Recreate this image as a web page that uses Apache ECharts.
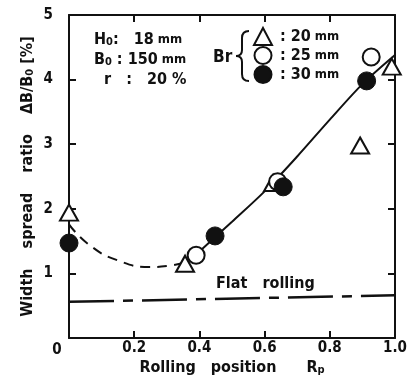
<!DOCTYPE html>
<html><head><meta charset="utf-8">
<script src="https://cdn.jsdelivr.net/npm/echarts@6/dist/echarts.min.js"></script>
<style>html,body{margin:0;padding:0;background:#fff}#c{width:412px;height:378px}</style>
</head><body><div id="c"></div>
<script>
const FONT = '"Liberation Sans Narrow","DejaVu Sans Condensed","Liberation Sans",Arial,sans-serif';
const xTickLabels = ['0','0.2','0.4','0.6','0.8','1.0'];
const yTickLabels = ['','1','2','3','4','5'];
const br20 = [[0,1.94],[0.356,1.15],[0.626,2.40],[0.893,2.98],[0.99,4.2]];
const br25 = [[0.39,1.28],[0.64,2.42],[0.927,4.35]];
const br30 = [[0,1.47],[0.448,1.58],[0.657,2.34],[0.913,3.98]];
const fitDashed = [[0,1.76],[0.06,1.45],[0.15,1.2],[0.25,1.1],[0.31,1.12],[0.35,1.16]];
const fitSolid = [[0.385,1.27],[0.5,1.80],[0.6,2.27],[0.7,2.81],[0.8,3.38],[0.9,3.93],[1.0,4.38]];
const flatRolling = [[0,0.56],[1.0,0.66]];

const chart = echarts.init(document.getElementById('c'));
const black = '#111';
function frame(){
  return {
    axisLine:{show:true,onZero:false,lineStyle:{color:black,width:2}},
    axisTick:{show:true,inside:true,length:7,lineStyle:{color:black,width:2}},
    splitLine:{show:false}
  };
}
const braceStyle = {fill:'none',stroke:black,lineWidth:2};
chart.setOption({
  animation:false,
  textStyle:{fontFamily:FONT},
  grid:{left:69,right:17,top:15,bottom:40,outerBoundsMode:'none',containLabel:false},
  xAxis:[Object.assign(frame(),{
    type:'value',min:0,max:1,interval:0.2,position:'bottom',
    name:'Rolling   position      R{sub|p}',nameLocation:'middle',nameGap:21,nameMoveOverlap:false,
    nameTextStyle:{fontFamily:FONT,fontWeight:'bold',fontSize:16,color:black,
      rich:{sub:{fontFamily:FONT,fontWeight:'bold',fontSize:11,color:black,padding:[6,0,0,0]}}},
    axisLabel:{fontFamily:FONT,fontWeight:'bold',fontSize:15,color:black,margin:3,
      formatter:(v)=>{const i=Math.round(v/0.2);return i===0?'{z|'+xTickLabels[0]+'}':xTickLabels[i];},
      rich:{z:{fontFamily:FONT,fontWeight:'bold',fontSize:15,color:black,padding:[2,24,0,0]}}}
  }),Object.assign(frame(),{
    type:'value',min:0,max:1,interval:0.2,position:'top',axisLabel:{show:false}
  })],
  yAxis:[Object.assign(frame(),{
    type:'value',min:0,max:5,interval:1,position:'left',
    name:'Width    spread    ratio    ΔB/B{sub|0} [%]',nameLocation:'middle',nameGap:33,nameMoveOverlap:false,
    nameTextStyle:{fontFamily:FONT,fontWeight:'bold',fontSize:16,color:black,
      rich:{sub:{fontFamily:FONT,fontWeight:'bold',fontSize:11,color:black,padding:[6,0,0,0]}}},
    axisLabel:{fontFamily:FONT,fontWeight:'bold',fontSize:15,color:black,margin:16,
      formatter:(v)=>yTickLabels[Math.round(v)]}
  }),Object.assign(frame(),{
    type:'value',min:0,max:5,interval:1,position:'right',axisLabel:{show:false}
  })],
  legend:{
    orient:'vertical',left:248,top:22,itemGap:0,itemWidth:18,itemHeight:17,
    data:['20mm','25mm','30mm'],
    formatter:(n)=>'{t|: '+n.replace('mm','')+'}{u| mm}',
    textStyle:{rich:{t:{fontFamily:FONT,fontWeight:'bold',fontSize:16,color:black,padding:[0,0,0,3]},
      u:{fontFamily:FONT,fontWeight:'bold',fontSize:13,color:black}}}
  },
  graphic:[
    {type:'text',left:94,top:30,style:{rich:{a:{fontFamily:FONT,fontWeight:'bold',fontSize:16,fill:black},s:{fontFamily:FONT,fontWeight:'bold',fontSize:11,fill:black,padding:[5,0,0,0]},m:{fontFamily:FONT,fontWeight:'bold',fontSize:13,fill:black}},
      text:'{a|H}{s|0}{a|:   18}{m| mm}\n{a|B}{s|0}{a| : 150}{m| mm}\n{a|  r   :   20 %}',lineHeight:20}},
    {type:'text',left:213,top:49,style:{text:'Br',fontFamily:FONT,fontWeight:'bold',fontSize:17,fill:black}},
    {type:'bezierCurve',shape:{x1:249,y1:31,x2:242,y2:38,cpx1:242,cpy1:31},style:braceStyle},
    {type:'line',shape:{x1:242,y1:38,x2:242,y2:50},style:braceStyle},
    {type:'bezierCurve',shape:{x1:242,y1:50,x2:236,y2:56,cpx1:242,cpy1:56},style:braceStyle},
    {type:'bezierCurve',shape:{x1:236,y1:56,x2:242,y2:62,cpx1:242,cpy1:56},style:braceStyle},
    {type:'line',shape:{x1:242,y1:62,x2:242,y2:74},style:braceStyle},
    {type:'bezierCurve',shape:{x1:242,y1:74,x2:249,y2:81,cpx1:242,cpy1:81},style:braceStyle},
    {type:'text',left:216,top:276,style:{text:'Flat   rolling',fontFamily:FONT,fontWeight:'bold',fontSize:16,fill:black}}
  ],
  series:[
    {type:'line',data:fitDashed,smooth:0.5,showSymbol:false,silent:true,
      lineStyle:{color:black,width:2,type:[10,7]},z:1},
    {type:'line',data:fitSolid,smooth:0.3,showSymbol:false,silent:true,
      lineStyle:{color:black,width:2},z:1},
    {type:'line',data:flatRolling,showSymbol:false,silent:true,
      lineStyle:{color:black,width:2.5,type:[45,9,10,9]},z:1},
    {name:'20mm',type:'scatter',data:br20,symbol:'triangle',symbolSize:[18,16],
      itemStyle:{color:'#fff',borderColor:black,borderWidth:2,opacity:1},z:3},
    {name:'25mm',type:'scatter',data:br25,symbol:'circle',symbolSize:17,
      itemStyle:{color:'#fff',borderColor:black,borderWidth:2,opacity:1},z:3},
    {name:'30mm',type:'scatter',data:br30,symbol:'circle',symbolSize:18,
      itemStyle:{color:black,borderColor:black,borderWidth:1,opacity:1},z:4}
  ]
});
</script></body></html>
